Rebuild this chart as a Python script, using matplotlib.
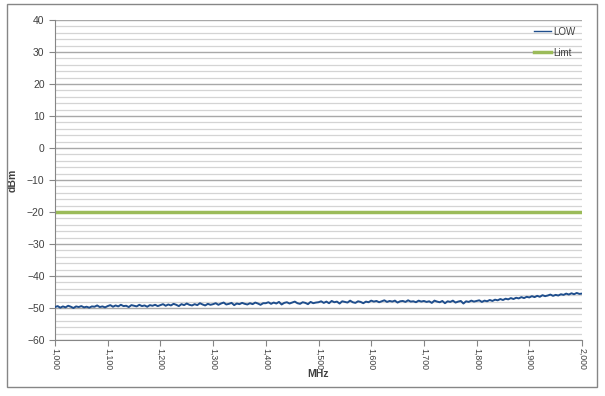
import numpy as np
import matplotlib
matplotlib.use("Agg")
import matplotlib.pyplot as plt
from matplotlib.patches import Rectangle
from matplotlib.ticker import MultipleLocator, FuncFormatter

# frequency axis, 5 MHz steps from 1000 to 2000 MHz
freq_mhz = np.arange(1000, 2001, 5)

low_dbm = [
    -49.7, -49.4, -49.9, -49.5, -49.8, -49.3, -49.6, -50.0, -49.5, -49.7,
    -49.4, -49.8, -49.6, -49.9, -49.5, -49.6, -49.2, -49.7, -49.5, -49.8,
    -49.4, -49.1, -49.6, -49.2, -49.5, -49.0, -49.4, -49.3, -49.7, -49.1,
    -49.3, -49.5, -49.0, -49.4, -49.2, -49.6, -49.1, -49.3, -49.0, -49.4,
    -49.1, -48.8, -49.3, -48.9, -49.2, -48.7, -49.0, -49.4, -48.8, -49.1,
    -48.6, -49.0, -49.2, -48.8, -49.1, -48.5, -48.9, -49.2, -48.7, -49.0,
    -48.8, -48.5, -49.0, -48.6, -48.3, -48.9, -48.7, -48.4, -49.1, -48.6,
    -48.8, -48.4, -48.7, -48.9, -48.5, -48.8, -48.3, -48.6, -49.0, -48.5,
    -48.5, -48.2, -48.7, -48.3, -48.6, -48.1, -48.9, -48.4, -48.2, -48.6,
    -48.3, -48.0, -48.5, -48.7, -48.2, -48.4, -48.8, -48.1, -48.5, -48.3,
    -48.2, -47.9, -48.4, -48.0, -48.5, -47.8, -48.2, -48.0, -48.6, -47.9,
    -48.1, -48.3, -47.7, -48.2, -48.4, -47.9, -48.1, -48.5, -48.0, -48.2,
    -47.7, -48.0, -47.8, -48.2, -47.9, -47.6, -48.1, -47.8, -48.0, -47.7,
    -48.3, -47.9, -47.8, -48.1, -47.6, -48.0, -47.9, -48.2, -47.7, -48.0,
    -47.8, -48.1, -47.9, -48.4, -47.7, -48.0, -48.2, -47.8, -48.5, -47.9,
    -48.1, -47.7, -48.3, -48.0, -47.8, -48.6, -47.9, -48.1, -47.7, -48.0,
    -47.8, -47.6, -48.1, -47.7, -47.9, -47.5, -47.8, -47.4, -47.6, -47.2,
    -47.5, -47.1, -47.3, -46.9, -47.2, -46.8, -47.0, -46.6, -46.9, -46.5,
    -46.7, -46.3, -46.6, -46.2, -46.5, -46.0, -46.3, -46.1, -45.8, -46.2,
    -45.9, -46.1, -45.7, -45.9, -45.5, -45.8, -45.4, -45.7, -45.3, -45.6,
    -45.5,
]

limit_dbm = -20.0

plt.rcParams["font.family"] = ["Liberation Sans", "DejaVu Sans"]

fig = plt.figure(figsize=(6.05, 3.96), dpi=100)
ax = fig.add_axes([55 / 605, 1 - 340 / 396, 527 / 605, 320 / 396])

ax.plot(freq_mhz, low_dbm, color="#1f4e8c", lw=1.4, label="LOW", zorder=3)
ax.axhline(limit_dbm, color="#9bbb59", lw=2.5, label="Limt", zorder=2)

ax.set_xlim(1000, 2000)
ax.set_ylim(-60, 40)
ax.xaxis.set_major_locator(MultipleLocator(100))
ax.yaxis.set_major_locator(MultipleLocator(10))
ax.yaxis.set_minor_locator(MultipleLocator(2))
ax.xaxis.set_major_formatter(FuncFormatter(lambda v, p: f"{int(v):,}"))

ax.grid(True, which="major", axis="y", color="#a8a8a8", lw=1.0, zorder=0)
ax.grid(True, which="minor", axis="y", color="#d4d4d4", lw=0.9, zorder=0)
ax.set_axisbelow(True)

for s in ("top", "right"):
    ax.spines[s].set_visible(False)
for s in ("left", "bottom"):
    ax.spines[s].set_color("#868686")
    ax.spines[s].set_linewidth(0.8)

ax.tick_params(axis="both", which="major", length=4, color="#868686",
               labelcolor="#404040")
ax.tick_params(axis="y", labelsize=7.5)
ax.tick_params(axis="x", labelsize=6.3, labelrotation=-90, pad=2)
ax.tick_params(axis="y", which="minor", length=0)

ax.set_xlabel("MHz", fontsize=7.5, fontweight="bold", color="#404040")
ax.xaxis.set_label_coords(0.5, -0.09)
ax.set_ylabel("dBm", fontsize=7.5, fontweight="bold", color="#404040")
ax.yaxis.set_label_coords(-0.07, 0.5)

leg = ax.legend(loc="upper right", bbox_to_anchor=(1.0, 1.0), frameon=False,
                fontsize=7, handlelength=1.7, handletextpad=0.2,
                labelspacing=1.1, borderaxespad=0.3)
for t in leg.get_texts():
    t.set_color("#404040")
# thin handle for the trace, as in the original legend
leg.get_lines()[0].set_linewidth(1.0)

fig.add_artist(Rectangle((7 / 605, 9 / 396), 590 / 605, 383 / 396,
                         transform=fig.transFigure, fill=False,
                         edgecolor="#868686", lw=1.0))

fig.savefig("out.png", dpi=100)
